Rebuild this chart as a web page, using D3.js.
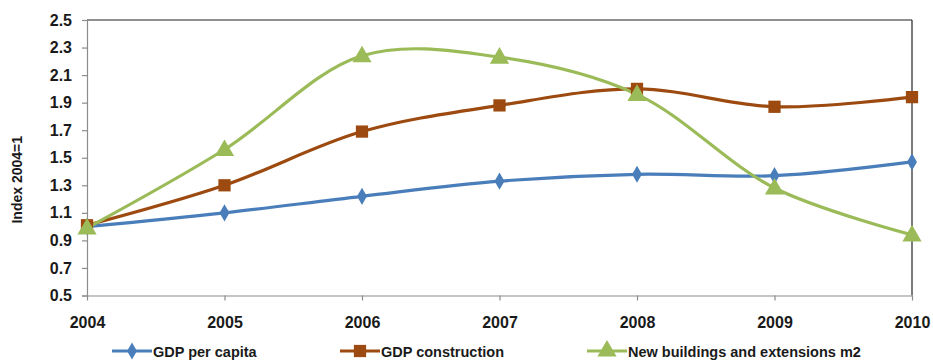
<!DOCTYPE html>
<html>
<head>
<meta charset="utf-8">
<script src="https://cdn.jsdelivr.net/npm/d3@7"></script>
<style>
  html, body { margin: 0; padding: 0; background: #fff; }
  svg { display: block; }
  text { font-family: "Liberation Sans", Arial, sans-serif; font-weight: bold; fill: #1a1a1a; }
</style>
</head>
<body>
<svg id="chart" width="933" height="361"></svg>
<script>
// Years on the x axis
const years = [2004, 2005, 2006, 2007, 2008, 2009, 2010];

// Index values (2004 = 1)
const gdpPerCapita = [1.00, 1.10, 1.22, 1.33, 1.38, 1.37, 1.47];
const gdpConstruction = [1.01, 1.30, 1.69, 1.88, 2.00, 1.87, 1.94];
const newBuildings = [0.99, 1.56, 2.24, 2.23, 1.96, 1.28, 0.94];

// Y axis tick values
const yTicks = [0.5, 0.7, 0.9, 1.1, 1.3, 1.5, 1.7, 1.9, 2.1, 2.3, 2.5];

const seriesNames = ["GDP per capita", "GDP construction", "New buildings and extensions m2"];
const seriesValues = [gdpPerCapita, gdpConstruction, newBuildings];
const seriesColors = ["#4a7ebb", "#9c4a0f", "#9bbb59"];
const seriesSymbols = [d3.symbolDiamond, d3.symbolSquare, d3.symbolTriangle];
const symbolSizes = [85, 150, 160];

const svg = d3.select("#chart");
const plotLeft = 87, plotRight = 912, plotTop = 20, plotBottom = 295.5;

const x = d3.scalePoint().domain(years).range([plotLeft, plotRight]);
const y = d3.scaleLinear().domain([0.5, 2.5]).range([plotBottom, plotTop]);

// Plot frame: black top and right edges
svg.append("line").attr("x1", plotLeft).attr("x2", plotRight).attr("y1", plotTop).attr("y2", plotTop)
  .attr("stroke", "#222").attr("stroke-width", 1.2);
svg.append("line").attr("x1", plotRight).attr("x2", plotRight).attr("y1", plotTop).attr("y2", plotBottom)
  .attr("stroke", "#222").attr("stroke-width", 1.2);

// Y axis
const yAxis = svg.append("g").attr("transform", `translate(${plotLeft},0)`)
  .call(d3.axisLeft(y).tickValues(yTicks).tickFormat(d3.format(".1f")).tickSize(5).tickPadding(10));
yAxis.select(".domain").attr("stroke", "#8c8c8c").attr("stroke-width", 1.2);
yAxis.selectAll(".tick line").attr("stroke", "#8c8c8c").attr("stroke-width", 1.2);
yAxis.selectAll(".tick text").attr("font-size", 16).attr("fill", "#1a1a1a")
  .attr("font-family", null);

// X axis
const xAxis = svg.append("g").attr("transform", `translate(0,${plotBottom})`)
  .call(d3.axisBottom(x).tickSize(5).tickPadding(16).tickSizeOuter(0));
xAxis.select(".domain").attr("stroke", "#8c8c8c").attr("stroke-width", 1.2);
xAxis.selectAll(".tick line").attr("stroke", "#8c8c8c").attr("stroke-width", 1.2);
xAxis.selectAll(".tick text").attr("font-size", 16).attr("fill", "#1a1a1a")
  .attr("font-family", null);

// Y axis title
svg.append("text")
  .attr("transform", `translate(22,${(plotTop + plotBottom) / 2 + 22}) rotate(-90)`)
  .attr("text-anchor", "middle")
  .attr("font-size", 14)
  .text("Index  2004=1");

// Smoothed series lines
const line = d3.line()
  .x((d, i) => x(years[i]))
  .y(d => y(d))
  .curve(d3.curveCatmullRom.alpha(0.5));

const plot = svg.append("g");
seriesValues.forEach((vals, s) => {
  plot.append("path")
    .attr("d", line(vals))
    .attr("fill", "none")
    .attr("stroke", seriesColors[s])
    .attr("stroke-width", 3.2)
    .attr("stroke-linejoin", "round");
});

// Markers
seriesValues.forEach((vals, s) => {
  plot.selectAll(null).data(vals).enter().append("path")
    .attr("transform", (d, i) => `translate(${x(years[i])},${y(d) + (s === 2 ? 1 : 0)})`)
    .attr("d", d3.symbol().type(seriesSymbols[s]).size(symbolSizes[s]))
    .attr("fill", seriesColors[s]);
});

// Legend
const legendX = [112, 340, 587];
const legendY = 351;
const legend = svg.append("g");
seriesNames.forEach((name, s) => {
  const g = legend.append("g").attr("transform", `translate(${legendX[s]},${legendY})`);
  g.append("line").attr("x1", 0).attr("x2", 40).attr("y1", 0).attr("y2", 0)
    .attr("stroke", seriesColors[s]).attr("stroke-width", 3.2);
  g.append("path").attr("transform", "translate(20,0)")
    .attr("d", d3.symbol().type(seriesSymbols[s]).size(symbolSizes[s]))
    .attr("fill", seriesColors[s]);
  g.append("text").attr("x", 41).attr("y", 5.5).attr("font-size", 14.5).text(name);
});
</script>
</body>
</html>
